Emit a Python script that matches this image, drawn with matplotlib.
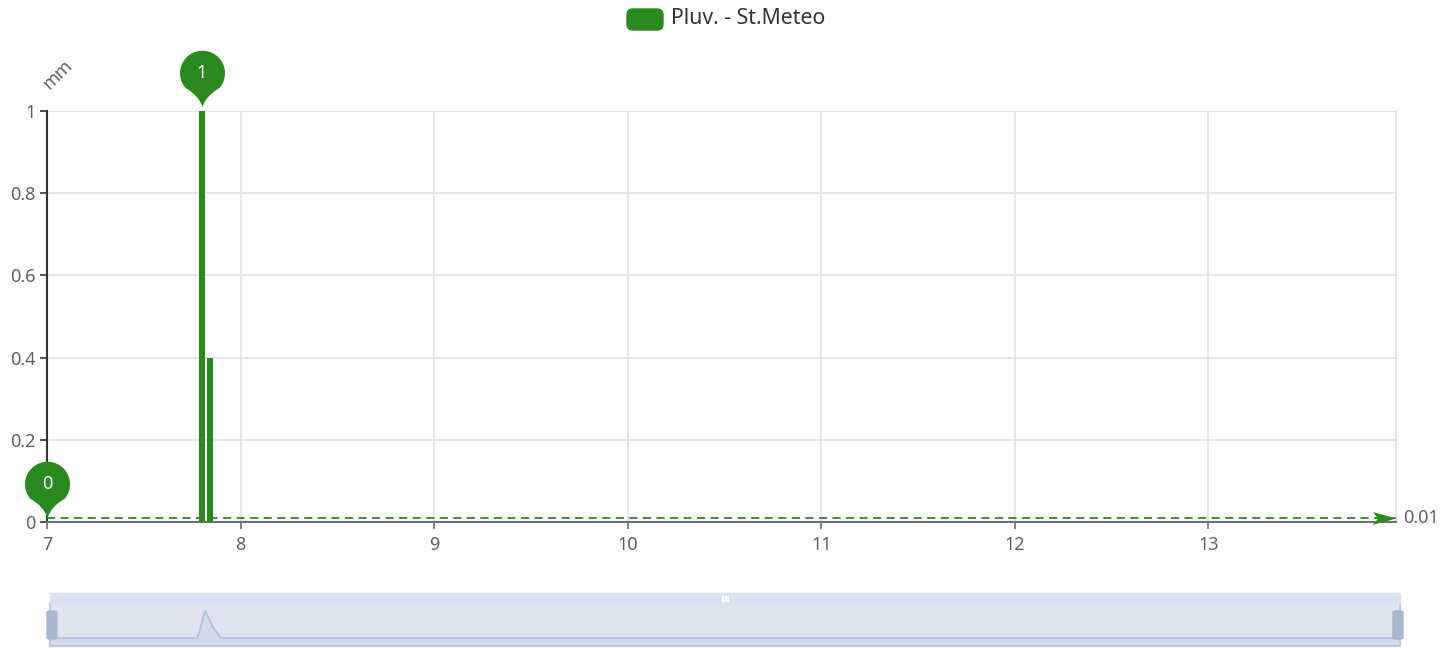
import numpy as np
import matplotlib
matplotlib.use("Agg")
import matplotlib.pyplot as plt
from matplotlib.path import Path
from matplotlib.patches import FancyBboxPatch, Rectangle

plt.rcParams['font.family'] = ['Noto Sans', 'DejaVu Sans']

# ---------------- data ----------------
series_name = "Pluv. - St.Meteo"
y_unit = "mm"
rain_time = [7.0, 7.76, 7.80, 7.84, 7.88, 13.96]   # day of month
rain_mm = [0.0, 0.0, 1.0, 0.4, 0.0, 0.0]
avg_value = 0.01
max_point = (7.80, 1.0, "1")
min_point = (7.0, 0.0, "0")
x_ticks = [7, 8, 9, 10, 11, 12, 13]
y_ticks = [0, 0.2, 0.4, 0.6, 0.8, 1.0]
y_tick_labels = ["0", "0.2", "0.4", "0.6", "0.8", "1"]
x_range = (7.0, 13.97)

# ---------------- style ----------------
GREEN = "#2a8a1e"
GRID = "#e0e0e6"
LABEL = "#5f6068"
W, H = 1453, 648
fig = plt.figure(figsize=(W / 100, H / 100), dpi=100)

def fx(px):
    return px / W

def fy(py):
    return 1 - py / H

L, R, T, B = 47, 1396, 111, 522
ax = fig.add_axes([fx(L), fy(B), (R - L) / W, (B - T) / H])
ax.set_xlim(*x_range)
ax.set_ylim(0, 1)

bar_w = 6 / ((R - L) / (x_range[1] - x_range[0]))
ax.bar(rain_time, rain_mm, width=bar_w, color=GREEN, zorder=3)

ax.set_xticks(x_ticks)
ax.set_xticklabels([str(t) for t in x_ticks])
ax.set_yticks(y_ticks)
ax.set_yticklabels(y_tick_labels)
ax.grid(True, color=GRID, linewidth=1.2, zorder=0)
ax.set_axisbelow(True)
ax.tick_params(axis='both', labelsize=13, colors=LABEL, length=5, width=1.2)
ax.tick_params(axis='y', color="#333333", pad=3)
ax.tick_params(axis='x', color="#6e7079", pad=5)
ax.spines['top'].set_visible(False)
ax.spines['right'].set_color(GRID)
ax.spines['right'].set_linewidth(1.2)
ax.spines['left'].set_color("#333333")
ax.spines['left'].set_linewidth(1.5)
ax.spines['bottom'].set_color("#6e7079")
ax.spines['bottom'].set_linewidth(1.5)

# average mark line
ax.plot([x_range[0], x_range[1]], [avg_value, avg_value], ls=(0, (4.5, 3)),
        color=GREEN, lw=1.3, zorder=4, clip_on=False)
arrow = Path([(0, 0), (-1, 0.27), (-0.78, 0), (-1, -0.27), (0, 0)],
             [Path.MOVETO, Path.LINETO, Path.LINETO, Path.LINETO, Path.CLOSEPOLY])
ax.plot([x_range[1]], [avg_value], marker=arrow, markersize=34, color=GREEN,
        markeredgewidth=0, zorder=5, clip_on=False)
ax.annotate(f"{avg_value:g}", (x_range[1], avg_value), xytext=(5, 0),
            textcoords='offset points', ha='left', va='center', fontsize=13, color=LABEL,
            annotation_clip=False)

# pin markers
theta = np.linspace(np.deg2rad(-40), np.deg2rad(220), 60)
cy = 1.7
verts = [(np.cos(t), cy + np.sin(t)) for t in theta]
codes = [Path.MOVETO] + [Path.LINETO] * (len(verts) - 1)
verts += [(-0.15, 0.7), (0, 0.2), (0.15, 0.7), verts[0]]
codes += [Path.CURVE3, Path.CURVE3, Path.CURVE3, Path.CURVE3]
pin = Path(verts, codes)
r_px = 22.5
top = cy + 1
ms = top * r_px / (100 / 72) * 2
for (px_, py_, lab) in [max_point, min_point]:
    ax.plot([px_], [py_], marker=pin, markersize=ms, color=GREEN, markeredgewidth=0,
            zorder=6, clip_on=False)
    ax.annotate(lab, (px_, py_), xytext=(0, cy * r_px * 72 / 100), textcoords='offset points',
                ha='center', va='center', color='white', fontsize=13, zorder=7,
                annotation_clip=False)

# y unit label
fig.text(fx(58), fy(75), y_unit, rotation=45, ha='center', va='center', fontsize=13, color=LABEL)

# legend
fig.patches.append(FancyBboxPatch((fx(627), fy(30)), 36 / W, 21 / H,
                                  boxstyle="round,pad=0,rounding_size=0.004",
                                  transform=fig.transFigure, color=GREEN, mutation_aspect=W / H))
fig.text(fx(671), fy(19), series_name, ha='left', va='center', fontsize=15.3, color="#333333")

# data zoom slider
SL, SR, ST, SB = 50, 1400, 603, 646
fig.patches.append(Rectangle((fx(SL), fy(ST)), (SR - SL) / W, 10 / H, transform=fig.transFigure,
                             color="#dae2f1", zorder=0))
sax = fig.add_axes([fx(SL), fy(SB), (SR - SL) / W, (SB - ST) / H])
sax.set_facecolor("#dfe4ee")
sax.set_xlim(x_range[0], 13.96)
sax.set_ylim(-0.296, 1.296)
sax.fill_between(rain_time, rain_mm, -0.296, color="#d4dbec", lw=0)
sax.plot(rain_time, rain_mm, color="#aebfe0", lw=1.2)
sax.set_xticks([])
sax.set_yticks([])
for s in sax.spines.values():
    s.set_color("#c3c9d8")
    s.set_linewidth(1.5)
# handles
for hx in [SL - 3, SR - 7]:
    fig.patches.append(FancyBboxPatch((fx(hx), fy(639)), 10 / W, 28 / H,
                                      boxstyle="round,pad=0,rounding_size=0.002",
                                      transform=fig.transFigure, color="#a9b7cd", zorder=5))
# move handle icon
for dx in [-3, 0, 3]:
    fig.patches.append(Rectangle((fx(725 + dx - 0.5), fy(601)), 1.0 / W, 5 / H,
                                 transform=fig.transFigure, color="white", zorder=5))

fig.savefig("out.png", dpi=100)
